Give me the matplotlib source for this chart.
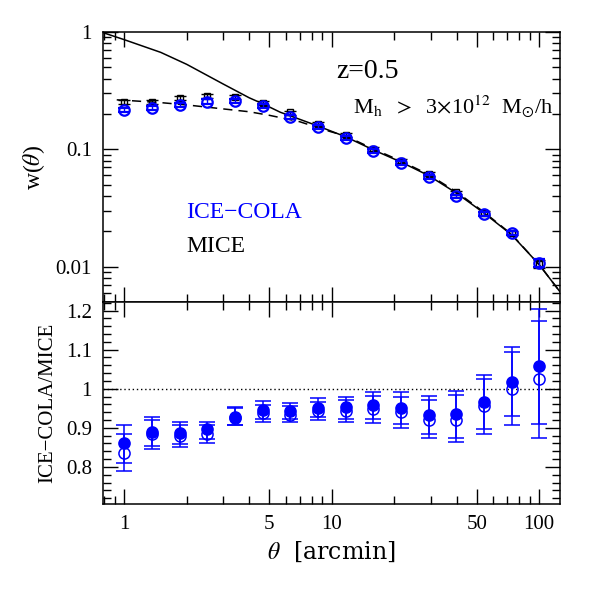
import matplotlib
matplotlib.use('Agg')
import matplotlib.pyplot as plt
from matplotlib.ticker import FixedLocator, NullFormatter, FixedFormatter, LogLocator, MultipleLocator

plt.rcParams['font.family'] = 'Liberation Serif'
plt.rcParams['mathtext.fontset'] = 'stix'

# angular bins [arcmin]
theta = [1.0, 1.36, 1.85, 2.51, 3.41, 4.64, 6.31, 8.58, 11.66, 15.85, 21.54, 29.29, 39.81, 54.12, 73.56, 100.0]

# w(theta), upper panel
mice_w = [0.255, 0.254, 0.273, 0.285, 0.281, 0.247, 0.206, 0.164, 0.133, 0.1007, 0.0798, 0.0619, 0.0429, 0.0286, 0.0193, 0.0105]
mice_err = [0.010, 0.010, 0.011, 0.012, 0.011, 0.010, 0.008, 0.0065, 0.005, 0.0035, 0.0027, 0.0022, 0.0016, 0.0011, 0.0008, 0.0008]
cola_w = [0.217, 0.227, 0.239, 0.255, 0.260, 0.235, 0.190, 0.1545, 0.1245, 0.0966, 0.0763, 0.058, 0.0397, 0.0281, 0.0193, 0.0108]
cola_err = [0.009, 0.009, 0.010, 0.011, 0.010, 0.009, 0.007, 0.006, 0.0045, 0.0033, 0.0025, 0.002, 0.0015, 0.001, 0.0008, 0.0008]

# model curves
theta_solid = [0.8, 1.0, 1.5, 2.0, 3.0, 4.0, 4.64, 5.65, 6.31, 8.58, 11.66, 15.85, 21.54, 29.29, 39.81, 54.12, 73.56, 100.0, 126.0]
w_solid = [0.98, 0.86, 0.67, 0.53, 0.36, 0.275, 0.245, 0.207, 0.193, 0.158, 0.128, 0.099, 0.078, 0.0598, 0.0425, 0.0287, 0.0187, 0.0104, 0.0061]
theta_dash = [0.92, 1.0, 1.5, 2.0, 3.0, 4.0, 5.0, 7.0, 9.8, 11.66, 15.85, 21.54, 29.29, 39.81, 54.12, 73.56, 100.0, 126.0]
w_dash = [0.264, 0.262, 0.25, 0.239, 0.221, 0.209, 0.195, 0.172, 0.142, 0.13, 0.101, 0.0795, 0.061, 0.0435, 0.0292, 0.0189, 0.0104, 0.0061]

# ratio ICE-COLA / MICE, lower panel
fill_ratio = [0.860, 0.889, 0.886, 0.896, 0.928, 0.945, 0.942, 0.950, 0.952, 0.958, 0.951, 0.934, 0.936, 0.967, 1.018, 1.058]
fill_lo = [0.811, 0.853, 0.859, 0.872, 0.908, 0.923, 0.923, 0.928, 0.923, 0.923, 0.911, 0.885, 0.875, 0.896, 0.929, 0.911]
fill_hi = [0.885, 0.921, 0.907, 0.907, 0.950, 0.959, 0.955, 0.966, 0.972, 0.982, 0.980, 0.970, 0.985, 1.026, 1.094, 1.174]
open_ratio = [0.836, 0.885, 0.880, 0.883, 0.926, 0.938, 0.934, 0.944, 0.944, 0.947, 0.940, 0.921, 0.921, 0.955, 0.999, 1.025]
open_lo = [0.790, 0.847, 0.851, 0.860, 0.906, 0.915, 0.915, 0.919, 0.915, 0.913, 0.900, 0.874, 0.863, 0.885, 0.908, 0.873]
open_hi = [0.908, 0.928, 0.915, 0.915, 0.952, 0.968, 0.964, 0.975, 0.979, 0.992, 0.991, 0.982, 0.995, 1.036, 1.108, 1.204]

blue = '#0000ff'

fig = plt.figure(figsize=(5.92, 5.89), dpi=100)
ax1 = fig.add_axes([0.174, 0.4873, 0.772, 0.4584])
ax2 = fig.add_axes([0.174, 0.1443, 0.772, 0.343], sharex=ax1)

# upper panel
ax1.plot(theta_solid, w_solid, color='k', lw=1.1, zorder=2)
ax1.plot(theta_dash, w_dash, color='k', lw=1.1, ls=(0, (6, 4)), zorder=2)
ax1.errorbar(theta, mice_w, yerr=mice_err, fmt='s', ms=5, mfc='none', mec='k', mew=1.0,
             ecolor='k', elinewidth=1.0, capsize=4, zorder=3)
ax1.errorbar(theta, cola_w, yerr=cola_err, fmt='o', ms=7.5, mfc='none', mec=blue, mew=1.6,
             ecolor=blue, elinewidth=1.0, capsize=4, zorder=4)

ax1.set_xscale('log')
ax1.set_yscale('log')
ax1.set_xlim(0.79, 126)
ax1.set_ylim(0.005, 1)
ax1.set_ylabel(r'w($\theta$)', fontsize=17, labelpad=6)
ax1.yaxis.set_major_locator(FixedLocator([0.01, 0.1, 1]))
ax1.yaxis.set_major_formatter(FixedFormatter(['0.01', '0.1', '1']))
ax1.yaxis.set_minor_locator(LogLocator(base=10, subs=range(2, 10)))
ax1.yaxis.set_minor_formatter(NullFormatter())

ax1.text(0.51, 0.852, 'z=0.5', transform=ax1.transAxes, fontsize=20, va='center', ha='left')
ax1.text(0.547, 0.722, r'M$_{\rm h}$  $>$  3$\times$10$^{12}$  M$_{\odot}$/h', transform=ax1.transAxes,
         fontsize=16, va='center', ha='left')
ax1.text(0.182, 0.33, 'ICE\u2212COLA', transform=ax1.transAxes, fontsize=17, color=blue, va='center')
ax1.text(0.182, 0.207, 'MICE', transform=ax1.transAxes, fontsize=17, color='k', va='center')

# lower panel
ax2.axhline(1.0, color='k', lw=1.0, ls=(0, (1, 2)), zorder=1)
ax2.errorbar(theta, open_ratio,
             yerr=[[v - l for v, l in zip(open_ratio, open_lo)], [h - v for v, h in zip(open_ratio, open_hi)]],
             fmt='o', ms=8, mfc='none', mec=blue, mew=1.1, ecolor=blue, elinewidth=1.1, capsize=6, zorder=3)
ax2.errorbar(theta, fill_ratio,
             yerr=[[v - l for v, l in zip(fill_ratio, fill_lo)], [h - v for v, h in zip(fill_ratio, fill_hi)]],
             fmt='o', ms=8, mfc=blue, mec=blue, mew=1.1, ecolor=blue, elinewidth=1.1, capsize=6, zorder=4)

ax2.set_ylim(0.705, 1.222)
ax2.yaxis.set_major_locator(FixedLocator([0.8, 0.9, 1.0, 1.1, 1.2]))
ax2.yaxis.set_major_formatter(FixedFormatter(['0.8', '0.9', '1', '1.1', '1.2']))
ax2.yaxis.set_minor_locator(MultipleLocator(0.02))
ax2.set_ylabel('ICE\u2212COLA/MICE', fontsize=15, labelpad=6)
ax2.set_xlabel(r'$\theta$  [arcmin]', fontsize=17, family='DejaVu Serif')

ax2.xaxis.set_major_locator(FixedLocator([1, 5, 10, 50, 100]))
ax2.xaxis.set_major_formatter(FixedFormatter(['1', '5', '10', '50', '100']))
ax2.xaxis.set_minor_locator(FixedLocator([0.8, 0.9, 2, 3, 4, 6, 7, 8, 9, 20, 30, 40, 60, 70, 80, 90]))
ax2.xaxis.set_minor_formatter(NullFormatter())
plt.setp(ax1.get_xticklabels(), visible=False)

for ax in (ax1, ax2):
    ax.tick_params(which='both', direction='in', top=True, right=True, width=1.0, labelsize=15)
    ax.tick_params(which='major', length=11, pad=8)
    ax.tick_params(which='minor', length=5.5)
    for s in ax.spines.values():
        s.set_linewidth(1.1)

fig.savefig('out.png', dpi=100)
